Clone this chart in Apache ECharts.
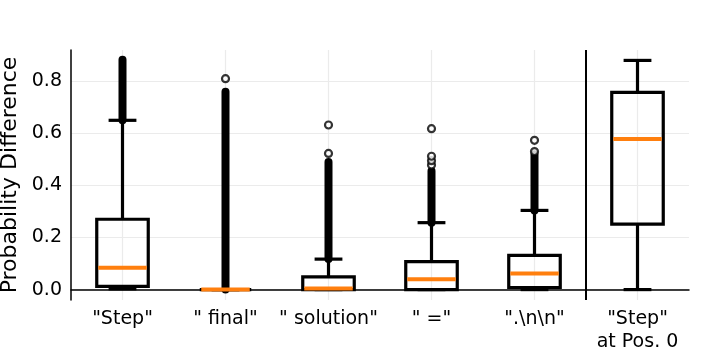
<!DOCTYPE html>
<html>
<head>
<meta charset="utf-8">
<script src="https://cdn.jsdelivr.net/npm/echarts@6/dist/echarts.min.js"></script>
<style>
  html, body { margin: 0; padding: 0; background: #fff; }
  #chart { width: 718px; height: 359px; }
</style>
</head>
<body>
<div id="chart"></div>
<script>
// categories
var categories = ['"Step"', '" final"', '" solution"', '" ="', '".\\n\\n"', '"Step"\nat Pos. 0'];
// box stats: [low whisker, Q1, median, Q3, high whisker]
var boxStats = [
    [0.003, 0.012, 0.084, 0.270, 0.650],
    [0.000, 0.000, 0.000, 0.000, 0.000],
    [0.000, 0.000, 0.004, 0.049, 0.117],
    [0.000, 0.000, 0.040, 0.107, 0.257],
    [0.000, 0.008, 0.062, 0.131, 0.304],
    [0.000, 0.251, 0.578, 0.757, 0.880]
];
// dense outlier runs: [category index, from, to]
var outlierRuns = [
    [0, 0.650, 0.883],
    [1, 0.000, 0.760],
    [2, 0.117, 0.490],
    [3, 0.257, 0.455],
    [4, 0.304, 0.520]
];
// single outliers: [category index, value]
var outlierPoints = [
    [1, 0.810],
    [2, 0.523], [2, 0.632],
    [3, 0.478], [3, 0.495], [3, 0.512], [3, 0.618],
    [4, 0.530], [4, 0.573]
];
var yTicks = [0, 0.2, 0.4, 0.6, 0.8];
var yMin = -0.04, yMax = 0.92;

var oChart = echarts.init(document.getElementById('chart'));
var boxData = boxStats.map(function (s, i) { return [i].concat(s); });

var chartopt = {
    animation: false,
    textStyle: { fontFamily: 'DejaVu Sans' },
    grid: { left: 71, right: 29, top: 50, bottom: 59, outerBoundsMode: 'none', containLabel: false },
    xAxis: {
        type: 'category',
        data: categories,
        boundaryGap: true,
        axisLine: { lineStyle: { color: '#000', width: 1.5 } },
        axisTick: { alignWithLabel: true, length: 5, lineStyle: { color: '#000', width: 1.2 } },
        axisLabel: { color: '#000', fontSize: 19, margin: 8, lineHeight: 23, interval: 0 },
        splitLine: { show: false }
    },
    yAxis: {
        type: 'value',
        min: yMin,
        max: yMax,
        axisLine: { show: true, lineStyle: { color: '#000', width: 1.5 } },
        axisTick: { show: false },
        axisLabel: {
            color: '#000', fontSize: 19, margin: 9,
            customValues: yTicks,
            formatter: function (v) { return v.toFixed(1); }
        },
        splitLine: { show: true, showMinLine: false, showMaxLine: false, lineStyle: { color: '#ebebeb', width: 1.2 } },
        name: 'Probability Difference',
        nameLocation: 'middle',
        nameGap: 34,
        nameTextStyle: { color: '#000', fontSize: 22 }
    },
    series: [{
        // dense outliers
        type: 'custom',
        data: outlierRuns,
        encode: { x: 0, y: [1, 2] },
        renderItem: function (params, api) {
            var p0 = api.coord([api.value(0), api.value(1)]);
            var p1 = api.coord([api.value(0), api.value(2)]);
            return {
                type: 'line',
                shape: { x1: p0[0], y1: p0[1], x2: p1[0], y2: p1[1] },
                style: { stroke: '#000', lineWidth: 8, lineCap: 'round' }
            };
        },
        z: 2
    }, {
        type: 'scatter',
        data: outlierPoints,
        symbol: 'circle',
        symbolSize: 7,
        itemStyle: { color: '#fff', borderColor: '#000', borderWidth: 2.2 },
        markLine: {
            silent: true,
            z: 0,
            symbol: 'none',
            label: { show: false },
            lineStyle: { color: '#ebebeb', width: 1.2, type: 'solid' },
            data: categories.map(function (c) { return { xAxis: c }; })
        },
        z: 3
    }, {
        type: 'custom',
        data: boxData,
        encode: { x: 0, y: [1, 2, 3, 4, 5] },
        renderItem: function (params, api) {
            var idx = api.value(0);
            var band = api.size([1, 0])[0];
            var bw = band * 0.5;
            var cw = band * 0.27;
            var lo = api.coord([idx, api.value(1)]);
            var q1 = api.coord([idx, api.value(2)]);
            var md = api.coord([idx, api.value(3)]);
            var q3 = api.coord([idx, api.value(4)]);
            var hi = api.coord([idx, api.value(5)]);
            var x = lo[0];
            function black() { return { stroke: '#000', lineWidth: 3.2 }; }
            return {
                type: 'group',
                children: [
                    { type: 'line', shape: { x1: x, y1: q1[1], x2: x, y2: lo[1] }, style: black() },
                    { type: 'line', shape: { x1: x, y1: q3[1], x2: x, y2: hi[1] }, style: black() },
                    { type: 'line', shape: { x1: x - cw / 2, y1: lo[1], x2: x + cw / 2, y2: lo[1] }, style: black() },
                    { type: 'line', shape: { x1: x - cw / 2, y1: hi[1], x2: x + cw / 2, y2: hi[1] }, style: black() },
                    { type: 'rect', shape: { x: x - bw / 2, y: q3[1], width: bw, height: q1[1] - q3[1] },
                      style: { fill: 'rgba(255,255,255,0)', stroke: '#000', lineWidth: 3.2 } },
                    { type: 'line', shape: { x1: x - bw / 2 + 1.5, y1: md[1], x2: x + bw / 2 - 1.5, y2: md[1] },
                      style: { stroke: '#ff7f0e', lineWidth: 4 } }
                ]
            };
        },
        z: 4
    }]
};
oChart.setOption(chartopt);

// separator between the token groups and "Step" at Pos. 0
var sx = (oChart.convertToPixel({ xAxisIndex: 0 }, 4) + oChart.convertToPixel({ xAxisIndex: 0 }, 5)) / 2;
var sTop = oChart.convertToPixel({ yAxisIndex: 0 }, yMax);
var sBot = oChart.convertToPixel({ yAxisIndex: 0 }, yMin);
oChart.setOption({
    graphic: [{
        type: 'line',
        z: 10,
        shape: { x1: sx, y1: sTop, x2: sx, y2: sBot },
        style: { stroke: '#000', lineWidth: 2 }
    }]
});
</script>
</body>
</html>
